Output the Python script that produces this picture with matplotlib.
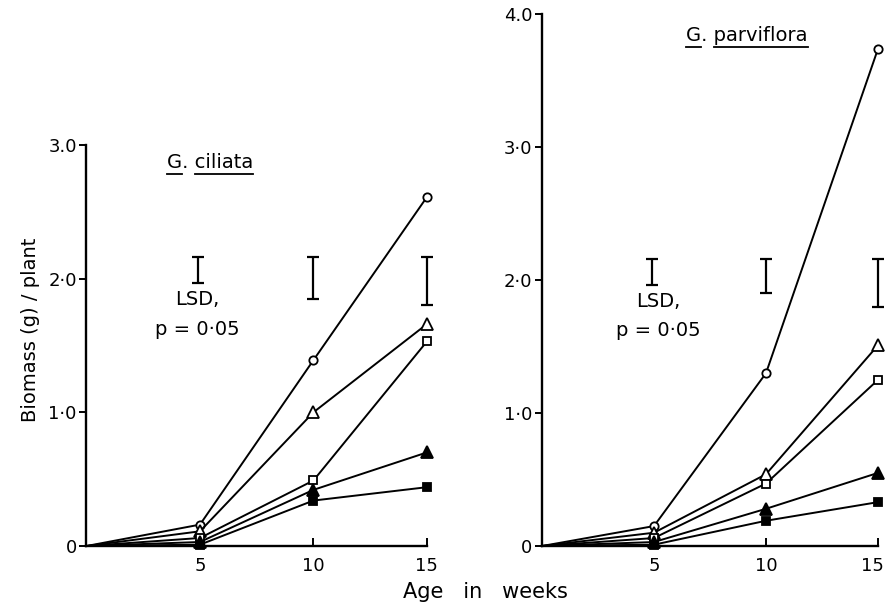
import matplotlib
matplotlib.use('Agg')
import matplotlib.pyplot as plt
import matplotlib.transforms as mtransforms
from matplotlib.lines import Line2D

#%% Datos
semanas = [0, 5, 10, 15]

# G. ciliata
cil_circulo = [0, 0.16, 1.39, 2.61]
cil_triangulo = [0, 0.11, 1.00, 1.66]
cil_cuadrado = [0, 0.06, 0.49, 1.53]
cil_triangulo_lleno = [0, 0.03, 0.42, 0.70]
cil_cuadrado_lleno = [0, 0.01, 0.34, 0.44]

# G. parviflora
par_circulo = [0, 0.15, 1.30, 3.74]
par_triangulo = [0, 0.10, 0.54, 1.51]
par_cuadrado = [0, 0.06, 0.47, 1.25]
par_triangulo_lleno = [0, 0.03, 0.28, 0.55]
par_cuadrado_lleno = [0, 0.01, 0.19, 0.33]

# Barras LSD (x, y inferior, y superior)
lsd_x = [4.9, 10, 15]
cil_lsd_bajo = [1.97, 1.85, 1.80]
par_lsd_bajo = [1.96, 1.90, 1.80]
lsd_alto = [2.16, 2.16, 2.16]

cil_yticks = [0, 1, 2, 3]
cil_yticklabels = ['0', '1·0', '2·0', '3.0']
par_yticks = [0, 1, 2, 3, 4]
par_yticklabels = ['0', '1·0', '2·0', '3·0', '4.0']
xticks = [5, 10, 15]

#%% Figura
fig = plt.figure(figsize=(8.85, 6.05), dpi=100)
ax1 = fig.add_axes([0.0977, 0.0975, 0.3847, 0.663])
ax2 = fig.add_axes([0.6124, 0.0975, 0.3797, 0.879])

estilos = [
    dict(marker='o', mfc='white', ms=6),
    dict(marker='^', mfc='white', ms=8),
    dict(marker='s', mfc='white', ms=6),
    dict(marker='^', mfc='black', ms=8),
    dict(marker='s', mfc='black', ms=6),
]


def dibujar(ax, series, lsd_bajo, yticks, yticklabels, ymax):
    for serie, st in zip(series, estilos):
        ax.plot(semanas, serie, color='black', lw=1.4, mec='black',
                mew=1.3, markevery=[1, 2, 3], clip_on=False, **st)
    for x, b, a in zip(lsd_x, lsd_bajo, lsd_alto):
        ax.errorbar(x, (a + b) / 2, yerr=(a - b) / 2, fmt='none',
                    ecolor='black', elinewidth=1.6, capsize=4, capthick=1.6,
                    clip_on=False)
    ax.set_xlim(0, 15)
    ax.set_ylim(0, ymax)
    for s in ['top', 'right']:
        ax.spines[s].set_visible(False)
    for s in ['left', 'bottom']:
        ax.spines[s].set_linewidth(1.7)
    ax.set_xticks(xticks)
    ax.set_yticks(yticks)
    ax.set_yticklabels(yticklabels)
    ax.tick_params(axis='x', direction='in', length=6, width=1.4,
                   labelsize=13, pad=8)
    ax.tick_params(axis='y', direction='out', length=5, width=1.4,
                   labelsize=13, pad=2)


dibujar(ax1, [cil_circulo, cil_triangulo, cil_cuadrado,
              cil_triangulo_lleno, cil_cuadrado_lleno],
        cil_lsd_bajo, cil_yticks, cil_yticklabels, 3.0)
dibujar(ax2, [par_circulo, par_triangulo, par_cuadrado,
              par_triangulo_lleno, par_cuadrado_lleno],
        par_lsd_bajo, par_yticks, par_yticklabels, 4.0)

# mover un poco la etiqueta "15" del panel derecho para que no se corte
ult = ax2.get_xticklabels()[-1]
ult.set_transform(ult.get_transform() +
                  mtransforms.ScaledTranslation(-4 / 72, 0, fig.dpi_scale_trans))

# Textos LSD
for ax, xl in [(ax1, 4.9), (ax2, 5.2)]:
    ax.text(xl, 1.84, 'LSD,', ha='center', va='center', fontsize=14)
    ax.text(xl, 1.62, 'p = 0·05', ha='center', va='center', fontsize=14)

# Titulos de especie subrayados
t1 = ax1.text(5.45, 2.87, 'G. ciliata', ha='center', va='center', fontsize=14)
t2 = ax2.text(9.15, 3.84, 'G. parviflora', ha='center', va='center', fontsize=14)

fig.text(0.035, 0.455, 'Biomass (g) / plant', rotation=90, ha='center',
         va='center', fontsize=14)
fig.text(0.548, 0.022, 'Age   in   weeks', ha='center', va='center',
         fontsize=15)

fig.canvas.draw()
r = fig.canvas.get_renderer()
inv = fig.transFigure.inverted()


def ancho(cadena):
    tmp = fig.text(0, 0, cadena, fontsize=14)
    w = tmp.get_window_extent(renderer=r).transformed(inv).width
    tmp.remove()
    return w


w_g = ancho('G')
w_pref = ancho('G. ')
for t in [t1, t2]:
    bb = t.get_window_extent(renderer=r).transformed(inv)
    y = bb.y0 - 0.004
    fig.add_artist(Line2D([bb.x0, bb.x0 + w_g], [y, y], color='black', lw=1.3))
    fig.add_artist(Line2D([bb.x0 + w_pref, bb.x1], [y, y], color='black', lw=1.3))

fig.savefig('out.png', dpi=100)
